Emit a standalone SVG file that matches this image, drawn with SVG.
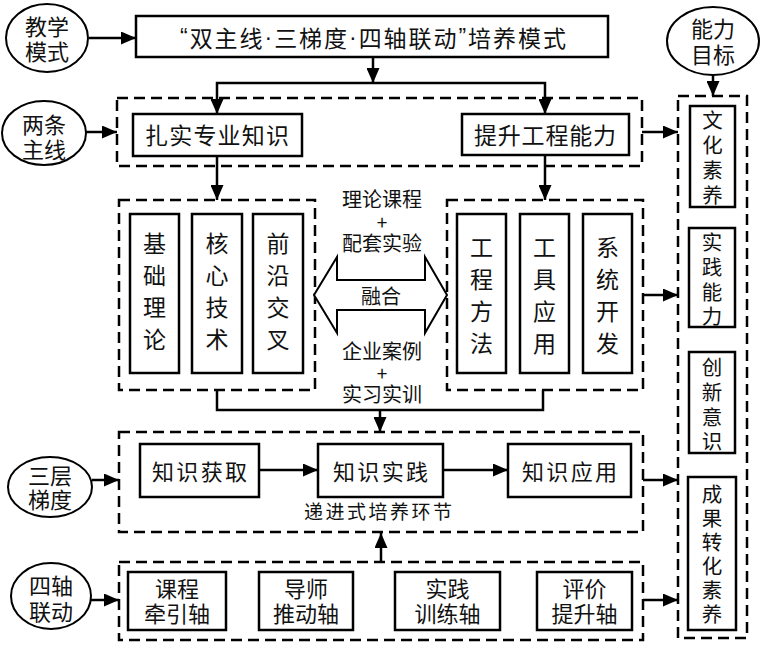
<svg xmlns="http://www.w3.org/2000/svg" width="765" height="646" viewBox="0 0 765 646">
<defs>
<marker id="ah" markerWidth="15" markerHeight="13" refX="15" refY="6.5" orient="auto" markerUnits="userSpaceOnUse"><path d="M0,0 L15,6.5 L0,13 Z" fill="#000"/></marker>
<style>
text{font-family:"Noto Sans CJK SC","Noto Sans",sans-serif;fill:#111;text-anchor:middle;dominant-baseline:central}
.box{fill:#fff;stroke:#000;stroke-width:2.5}
.ell{fill:#fff;stroke:#000;stroke-width:2}
.dash{fill:none;stroke:#000;stroke-width:2.5;stroke-dasharray:11 6}
.ln{fill:none;stroke:#000;stroke-width:2.5}
.t22{font-size:22px}
.t23{font-size:23px}
.t20{font-size:20px}
.t19{font-size:19px}
.tr{font-size:20.5px}
.lat{font-family:"Liberation Sans",sans-serif}
</style>
</defs>
<rect width="765" height="646" fill="#fff"/>

<g id="frames">
<rect class="dash" x="117" y="98" width="525" height="68"/>
<rect class="dash" x="119" y="200" width="196" height="190"/>
<rect class="dash" x="447" y="200" width="196" height="190"/>
<rect class="dash" x="119" y="432" width="524" height="100"/>
<rect class="dash" x="119" y="562" width="524" height="78"/>
<rect class="dash" x="678" y="96" width="69" height="542"/>
</g>

<g id="connectors">
<path class="ln" d="M89,38 H136" marker-end="url(#ah)"/>
<path class="ln" d="M373,57 V83" marker-end="url(#ah)"/>
<path class="ln" d="M373,83 H217 V114" marker-end="url(#ah)"/>
<path class="ln" d="M373,83 H545 V114" marker-end="url(#ah)"/>
<path class="ln" d="M86,132 H117" marker-end="url(#ah)"/>
<path class="ln" d="M642,132 H678" marker-end="url(#ah)"/>
<path class="ln" d="M713,75 V96" marker-end="url(#ah)"/>
<path class="ln" d="M217,156 V200" marker-end="url(#ah)"/>
<path class="ln" d="M545,155 V200" marker-end="url(#ah)"/>
<path class="ln" d="M643,295 H678" marker-end="url(#ah)"/>
<path class="ln" d="M217,390 V410 H543 V390"/>
<path class="ln" d="M380,410 V432" marker-end="url(#ah)"/>
<path class="ln" d="M92,480 H119" marker-end="url(#ah)"/>
<path class="ln" d="M259,470 H318" marker-end="url(#ah)"/>
<path class="ln" d="M443,470 H508" marker-end="url(#ah)"/>
<path class="ln" d="M643,480 H678" marker-end="url(#ah)"/>
<path class="ln" d="M381,562 V533" marker-end="url(#ah)"/>
<path class="ln" d="M91,600 H119" marker-end="url(#ah)"/>
<path class="ln" d="M643,600 H678" marker-end="url(#ah)"/>
</g>

<g id="n-jiaoxue">
<ellipse class="ell" cx="47" cy="38" rx="41" ry="34"/>
<text class="t22" x="47" y="25">教学</text>
<text class="t22" x="47" y="50">模式</text>
</g>
<g id="n-title">
<rect class="box" x="136" y="16" width="472" height="41"/>
<text class="t23" x="373" y="37" textLength="386" lengthAdjust="spacing"><tspan class="lat">“</tspan>双主线<tspan class="lat">·</tspan>三梯度<tspan class="lat">·</tspan>四轴联动<tspan class="lat">”</tspan>培养模式</text>
</g>
<g id="n-nengli">
<ellipse class="ell" cx="713" cy="41" rx="46" ry="34"/>
<text class="t22" x="713" y="27">能力</text>
<text class="t22" x="713" y="53">目标</text>
</g>
<g id="n-liangtiao">
<ellipse class="ell" cx="44" cy="133" rx="42" ry="32"/>
<text class="t22" x="44" y="123">两条</text>
<text class="t22" x="44" y="148">主线</text>
</g>
<g id="n-zhashi">
<rect class="box" x="133" y="114" width="169" height="42"/>
<text class="t23" x="217" y="134" textLength="144" lengthAdjust="spacing">扎实专业知识</text>
</g>
<g id="n-tisheng">
<rect class="box" x="462" y="114" width="167" height="41"/>
<text class="t23" x="545" y="134" textLength="142" lengthAdjust="spacing">提升工程能力</text>
</g>

<g id="n-jichu">
<rect class="box" x="130" y="214" width="49" height="159"/>
<text class="t23"><tspan x="154.5" y="242">基</tspan><tspan x="154.5" y="274">础</tspan><tspan x="154.5" y="306">理</tspan><tspan x="154.5" y="338">论</tspan></text>
</g>
<g id="n-hexin">
<rect class="box" x="192" y="214" width="50" height="159"/>
<text class="t23"><tspan x="217" y="242">核</tspan><tspan x="217" y="274">心</tspan><tspan x="217" y="306">技</tspan><tspan x="217" y="338">术</tspan></text>
</g>
<g id="n-qianyan">
<rect class="box" x="253" y="214" width="50" height="159"/>
<text class="t23"><tspan x="278" y="242">前</tspan><tspan x="278" y="274">沿</tspan><tspan x="278" y="306">交</tspan><tspan x="278" y="338">叉</tspan></text>
</g>

<g id="n-gongcheng">
<rect class="box" x="457" y="214" width="49" height="159"/>
<text class="t23"><tspan x="481.5" y="246">工</tspan><tspan x="481.5" y="278">程</tspan><tspan x="481.5" y="310">方</tspan><tspan x="481.5" y="342">法</tspan></text>
</g>
<g id="n-gongju">
<rect class="box" x="520" y="214" width="49" height="159"/>
<text class="t23"><tspan x="544.5" y="246">工</tspan><tspan x="544.5" y="278">具</tspan><tspan x="544.5" y="310">应</tspan><tspan x="544.5" y="342">用</tspan></text>
</g>
<g id="n-xitong">
<rect class="box" x="583" y="214" width="49" height="159"/>
<text class="t23"><tspan x="607.5" y="246">系</tspan><tspan x="607.5" y="278">统</tspan><tspan x="607.5" y="310">开</tspan><tspan x="607.5" y="342">发</tspan></text>
</g>

<g id="n-ronghe">
<path d="M314,295 L337,257 V280 H425 V257 L447,295 L425,333 V310 H337 V333 Z" fill="#fff" stroke="#000" stroke-width="2"/>
<text class="t20" x="381" y="295">融合</text>
<text class="t20" x="382" y="198">理论课程</text>
<text class="t19" x="382" y="221">+</text>
<text class="t20" x="382" y="242">配套实验</text>
<text class="t20" x="382" y="350">企业案例</text>
<text class="t19" x="382" y="372">+</text>
<text class="t20" x="382" y="393">实习实训</text>
</g>

<g id="n-sanceng">
<ellipse class="ell" cx="50" cy="487" rx="42" ry="30"/>
<text class="t22" x="50" y="474">三层</text>
<text class="t22" x="50" y="498">梯度</text>
</g>
<g id="n-huoqu">
<rect class="box" x="140" y="444" width="119" height="53"/>
<text class="t22" x="199.5" y="470" textLength="95" lengthAdjust="spacing">知识获取</text>
</g>
<g id="n-shijian">
<rect class="box" x="318" y="444" width="125" height="53"/>
<text class="t22" x="380.5" y="470" textLength="95" lengthAdjust="spacing">知识实践</text>
</g>
<g id="n-yingyong">
<rect class="box" x="508" y="444" width="123" height="53"/>
<text class="t22" x="569.5" y="470" textLength="95" lengthAdjust="spacing">知识应用</text>
</g>
<text class="t19" x="378" y="510" textLength="148" lengthAdjust="spacing">递进式培养环节</text>

<g id="n-sizhou">
<ellipse class="ell" cx="51" cy="596" rx="40" ry="33"/>
<text class="t22" x="51" y="584">四轴</text>
<text class="t22" x="51" y="610">联动</text>
</g>
<g id="n-kecheng">
<rect class="box" x="128" y="572" width="98" height="58"/>
<text class="t22" x="177" y="587">课程</text>
<text class="t22" x="177" y="612">牵引轴</text>
</g>
<g id="n-daoshi">
<rect class="box" x="259" y="572" width="94" height="58"/>
<text class="t22" x="306" y="587">导师</text>
<text class="t22" x="306" y="612">推动轴</text>
</g>
<g id="n-xunlian">
<rect class="box" x="395" y="572" width="105" height="58"/>
<text class="t22" x="447.5" y="587">实践</text>
<text class="t22" x="447.5" y="612">训练轴</text>
</g>
<g id="n-pingjia">
<rect class="box" x="537" y="572" width="95" height="58"/>
<text class="t22" x="584.5" y="587">评价</text>
<text class="t22" x="584.5" y="612">提升轴</text>
</g>

<g id="n-wenhua">
<rect class="box" x="690" y="106" width="45" height="101"/>
<text class="tr"><tspan x="712.5" y="119">文</tspan><tspan x="712.5" y="144">化</tspan><tspan x="712.5" y="169">素</tspan><tspan x="712.5" y="194">养</tspan></text>
</g>
<g id="n-shijiannengli">
<rect class="box" x="689" y="228" width="46" height="99"/>
<text class="tr"><tspan x="712" y="241">实</tspan><tspan x="712" y="266">践</tspan><tspan x="712" y="291">能</tspan><tspan x="712" y="315">力</tspan></text>
</g>
<g id="n-chuangxin">
<rect class="box" x="689" y="352" width="46" height="101"/>
<text class="tr"><tspan x="712" y="366">创</tspan><tspan x="712" y="391">新</tspan><tspan x="712" y="416">意</tspan><tspan x="712" y="440">识</tspan></text>
</g>
<g id="n-chengguo">
<rect class="box" x="688" y="477" width="48" height="153"/>
<text class="tr"><tspan x="712" y="493">成</tspan><tspan x="712" y="517">果</tspan><tspan x="712" y="541">转</tspan><tspan x="712" y="565">化</tspan><tspan x="712" y="589">素</tspan><tspan x="712" y="613">养</tspan></text>
</g>
</svg>
